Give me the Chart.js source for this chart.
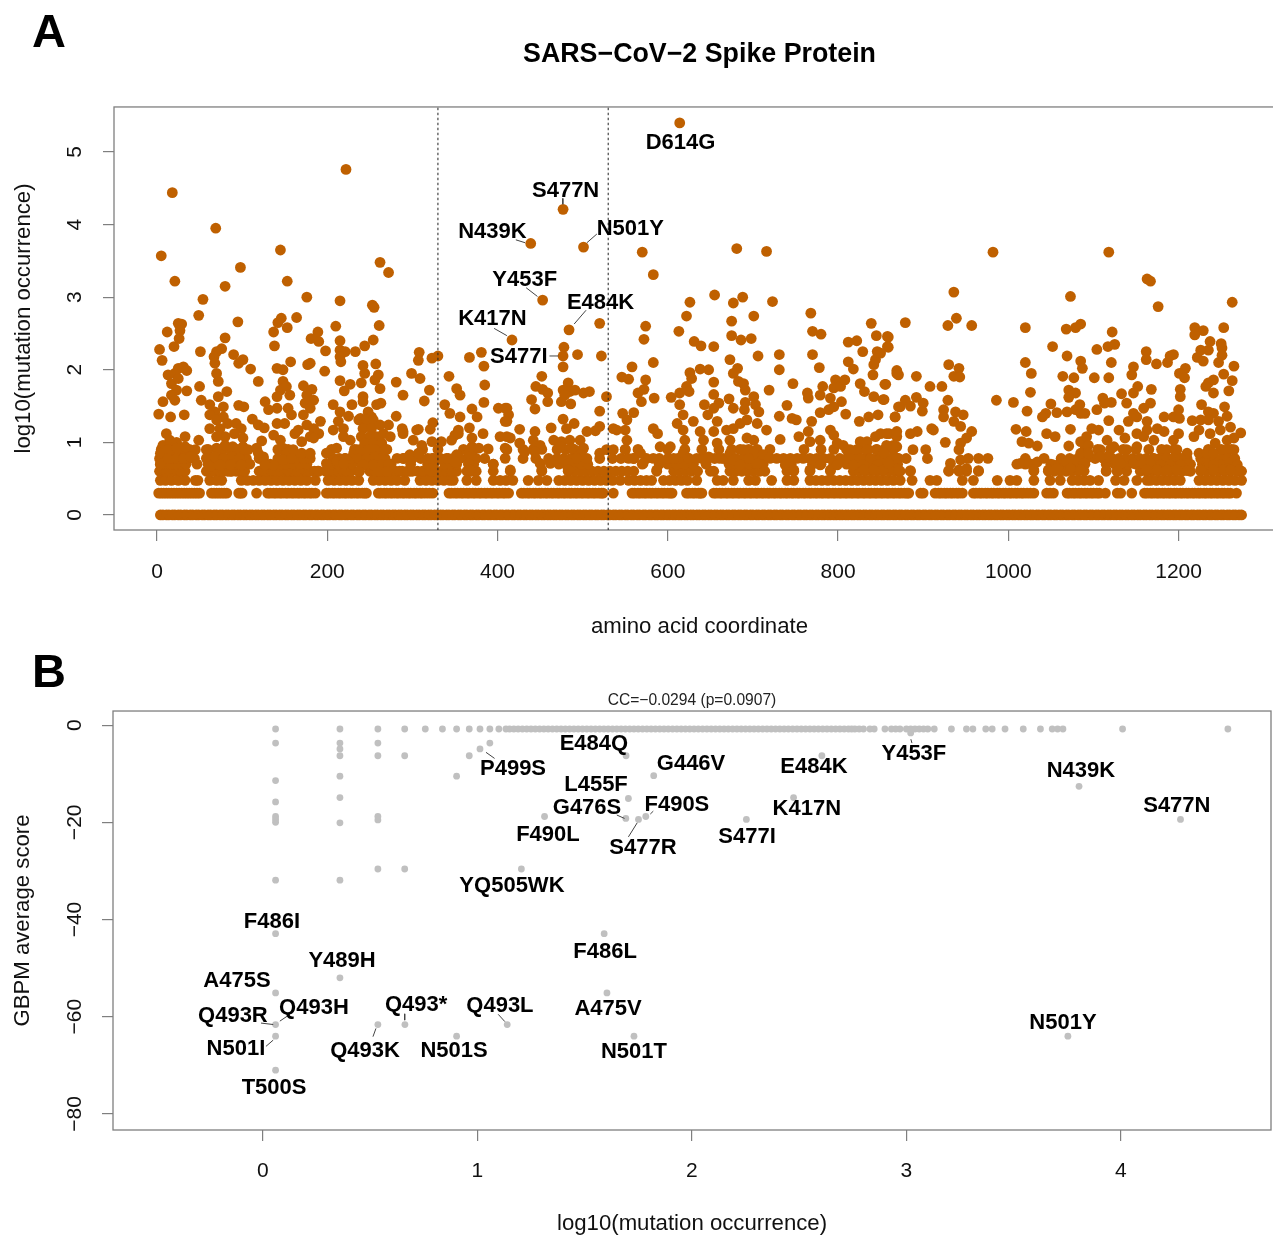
<!DOCTYPE html>
<html>
<head>
<meta charset="utf-8">
<title>SARS-CoV-2 Spike Protein</title>
<script src="https://cdn.jsdelivr.net/npm/chart.js@4/dist/chart.umd.min.js"></script>
<style>
html, body { margin: 0; padding: 0; background: #fff; overflow: hidden; }
#page { position: relative; width: 1273px; height: 1237px; overflow: hidden; }
canvas { position: absolute; left: 0; }
#chartA { top: 0; }
#chartB { top: 640px; }
.letter { position: absolute; left: 32px; font: bold 47px "Liberation Sans", Arial, sans-serif; color: #000; line-height: 47px; }
</style>
</head>
<body>
<div id="page">
  <canvas id="chartA" width="1300" height="650"></canvas>
  <canvas id="chartB" width="1273" height="597"></canvas>
  <div class="letter" style="top:7px">A</div>
  <div class="letter" style="top:647px">B</div>
</div>
<script>
// panel A, rows of discrete counts: amino acid positions
const countOneRow = [4,7,11,14,18,21,25,28,32,35,39,42,46,49,53,56,60,63,67,70,74,77,81,84,88,91,95,98,102,105,109,112,116,119,123,126,130,133,137,140,144,147,151,154,158,161,165,168,172,175,179,182,186,189,193,196,200,203,207,210,214,217,221,224,228,231,235,238,242,245,249,252,256,259,263,266,270,273,277,280,284,287,291,294,298,301,305,308,312,315,319,322,326,329,333,336,340,343,347,350,354,357,361,364,368,371,375,378,382,385,389,392,396,399,403,406,410,413,417,420,424,427,431,434,438,441,445,448,452,455,459,462,466,469,473,476,480,483,487,490,494,497,501,504,508,511,515,518,522,525,529,532,536,539,543,546,550,553,557,560,564,567,571,574,578,581,585,588,592,595,599,602,606,609,613,616,620,623,627,630,634,637,641,644,648,651,655,658,662,665,669,672,676,679,683,686,690,693,697,700,704,707,711,714,718,721,725,728,732,735,739,742,746,749,753,756,760,763,767,770,774,777,781,784,788,791,795,798,802,805,809,812,816,819,823,826,830,833,837,840,844,847,851,854,858,861,865,868,872,875,879,882,886,889,893,896,900,903,907,910,914,917,921,924,928,931,935,938,942,945,949,952,956,959,963,966,970,973,977,980,984,987,991,994,998,1001,1005,1008,1012,1015,1019,1022,1026,1029,1033,1036,1040,1043,1047,1050,1054,1057,1061,1064,1068,1071,1075,1078,1082,1085,1089,1092,1096,1099,1103,1106,1110,1113,1117,1120,1124,1127,1131,1134,1138,1141,1145,1148,1152,1155,1159,1162,1166,1169,1173,1176,1180,1183,1187,1190,1194,1197,1201,1204,1208,1211,1215,1218,1222,1225,1229,1232,1236,1239,1243,1246,1250,1253,1257,1260,1264,1267,1271,1274];
const countTwoRow = [2,8,14,20,26,32,38,44,50,64,70,76,82,96,100,117,130,137,144,151,158,165,172,179,186,199,206,213,220,227,234,241,246,260,267,274,281,288,295,302,309,316,324,343,350,357,364,371,378,385,392,399,406,413,428,435,442,449,456,463,470,477,484,491,498,505,512,519,524,536,558,565,572,579,586,593,600,605,622,629,636,640,654,661,668,675,682,689,696,703,710,717,724,731,738,745,752,759,766,773,780,787,794,801,808,815,822,829,836,843,850,857,864,871,878,883,897,900,914,921,928,935,942,946,959,966,973,980,987,994,1001,1008,1015,1022,1030,1045,1053,1069,1076,1083,1090,1097,1104,1114,1128,1132,1145,1160,1167,1174,1181,1188,1195,1202,1209,1216,1223,1230,1237,1244,1251,1258,1268];
const countTwoFill = [5,11,17,23,29,35,41,47,67,73,79,98,133,140,147,154,161,168,175,182,202,209,216,223,230,237,244,263,270,277,284,291,298,305,312,320,346,353,360,367,374,381,388,395,402,409,431,438,445,452,459,466,473,480,487,494,501,508,515,522,561,568,575,582,589,596,603,625,632,638,657,664,671,678,685,692,699,706,713,720,727,734,741,748,755,762,769,776,783,790,797,804,811,818,825,832,839,846,853,860,867,874,881,918,925,932,939,962,969,976,983,990,997,1004,1011,1018,1026,1049,1072,1079,1086,1093,1100,1107,1163,1170,1177,1184,1191,1198,1205,1212,1219,1226,1233,1240,1247,1254,1261];
const countThreeRow = [4,10,17,25,33,45,48,62,70,76,99,106,113,120,127,134,141,148,155,162,169,176,186,201,208,215,222,229,237,254,261,268,275,282,291,309,316,323,330,337,344,348,364,375,395,403,410,418,436,448,458,472,479,486,493,500,507,514,521,528,535,544,554,561,568,575,581,595,602,609,616,623,634,658,665,677,695,703,722,740,748,767,774,781,788,795,802,809,816,823,830,837,844,851,858,865,873,887,908,916,946,959,987,1002,1010,1030,1049,1061,1075,1082,1089,1096,1106,1126,1136,1151,1163,1167,1174,1181,1188,1195,1202,1224,1231,1238,1245,1252,1259,1266,1274];
const countFourRow = [3,4,9,11,15,21,23,27,29,33,58,62,63,68,73,74,78,83,86,88,93,97,98,103,120,125,127,130,135,137,140,145,150,153,155,160,163,165,170,175,178,180,185,189,190,198,203,206,208,213,218,222,223,228,237,238,250,256,262,268,270,274,280,285,288,294,297,300,306,312,313,318,320,322,328,334,340,345,346,352,364,367,369,374,375,395,415,452,483,490,497,504,511,518,525,532,539,546,553,560,587,607,614,621,628,635,650,654,673,680,687,694,701,708,714,740,748,767,791,818,825,832,839,846,853,860,867,873,871,885,930,942,951,965,1030,1047,1054,1061,1068,1075,1082,1089,1115,1128,1139,1155,1162,1169,1176,1183,1190,1197,1204,1214,1226,1233,1240,1247,1254,1261,1268,1274];
const countFiveRow = [4,10,16,22,28,34,60,66,72,78,84,90,96,102,127,133,139,145,151,160,168,176,205,213,221,229,240,247,254,261,268,275,298,318,325,338,345,352,366,372,395,472,480,490,498,506,570,590,600,610,620,630,645,672,680,688,696,704,712,745,770,780,795,810,820,830,840,850,860,870,1010,1020,1030,1050,1060,1070,1080,1090,1115,1125,1132,1140,1150,1158,1166,1174,1182,1190,1198,1206,1214,1228,1236,1244,1252,1260,1268];
const countSixRow = [3,8,14,20,26,32,38,44,60,65,70,75,80,85,90,95,100,105,120,125,142,149,156,163,172,180,207,214,221,228,238,245,252,260,268,290,300,310,318,325,332,340,348,356,366,375,385,430,445,460,470,478,486,492,505,520,535,545,560,575,590,600,612,625,640,655,665,672,680,688,696,704,712,802,810,820,830,838,846,854,862,870,880,905,1020,1062,1072,1082,1092,1102,1112,1122,1130,1138,1146,1154,1162,1170,1178,1186,1194,1202,1210,1226,1234,1242,1250,1258,1266];
const countEightRow = [5,12,18,25,32,38,60,70,78,86,94,102,142,148,154,205,232,240,247,254,261,270,312,330,360,372,430,442,452,470,480,490,500,550,565,600,620,640,660,675,685,695,705,720,760,780,795,810,825,835,845,855,865,1090,1105,1120,1135,1150,1165,1180,1195,1235,1250,1262];

// panel A, scattered points: [position, log10 occurrence]
const spikeLeft = [[18,4.44],[69,3.95],[222,4.76],[5,3.57],[145,3.65],[262,3.48],[272,3.34],[98,3.41],[21,3.22],[80,3.15],[153,3.22],[54,2.97],[176,3.0],[215,2.95],[253,2.89],[255,2.86],[49,2.75],[164,2.72],[25,2.64],[29,2.63],[146,2.71],[142,2.65],[153,2.58],[137,2.52],[12,2.52],[95,2.66],[210,2.6],[261,2.61],[27,2.54],[26,2.43],[80,2.44],[189,2.52],[181,2.43],[190,2.39],[215,2.4],[254,2.41],[244,2.33],[233,2.25],[138,2.33],[20,2.32],[3,2.28],[76,2.29],[70,2.25],[67,2.18],[51,2.25],[198,2.26],[215,2.27],[221,2.25],[215,2.18],[216,2.11],[90,2.21],[101,2.14],[96,2.09],[6,2.13],[308,2.24],[307,2.13],[323,2.16],[330,2.19],[367,2.17],[381,2.24],[384,2.05],[157,2.11],[148,2.0],[141,2.02],[180,2.09],[177,2.07],[257,2.08],[242,2.06],[244,1.95],[240,1.82],[260,1.93],[256,1.86],[262,1.74],[110,2.01],[197,1.98],[25,2.02],[31,2.04],[35,1.99],[13,1.93],[21,1.95],[17,1.81],[25,1.88],[68,2.09],[70,1.95],[72,1.84],[299,1.95],[309,1.88],[343,1.91],[119,1.84],[281,1.83],[215,1.85],[227,1.8],[220,1.71],[50,1.77],[35,1.71],[23,1.72],[17,1.65],[385,1.79],[352,1.74],[320,1.72],[82,1.7],[72,1.63],[148,1.84],[145,1.72],[152,1.77],[156,1.65],[141,1.63],[172,1.78],[182,1.73],[176,1.65],[184,1.58],[174,1.54],[180,1.47],[172,1.38],[289,1.65],[242,1.63],[242,1.56],[229,1.52],[263,1.54],[52,1.58],[21,1.58],[7,1.56],[62,1.52],[127,1.56],[96,1.51],[102,1.49],[314,1.57],[384,1.55],[356,1.65],[338,1.52],[344,1.4],[356,1.35],[370,1.46],[376,1.35],[207,1.52],[215,1.42],[225,1.36],[213,1.29],[78,1.49],[68,1.42],[62,1.38],[78,1.35],[70,1.31],[131,1.45],[141,1.47],[154,1.47],[158,1.38],[150,1.26],[2,1.39],[16,1.35],[32,1.38],[281,1.36],[401,1.47],[411,1.47],[411,1.29],[258,1.52],[248,1.42],[239,1.33],[252,1.35],[246,1.26],[254,1.24],[112,1.32],[119,1.24],[126,1.2],[324,1.27],[321,1.18],[307,1.18],[272,1.24],[288,1.19],[289,1.15],[354,1.17],[350,1.1],[367,1.2],[383,1.12]];
const lowLeft = [[11,1.12],[7,.96],[15,1.03],[23,1.0],[33,1.08],[4,.85],[13,.9],[23,.92],[33,.94],[49,1.03],[45,.9],[4,.7],[13,.78],[23,.78],[31,.78],[39,.8],[47,.7],[62,1.19],[74,1.19],[83,1.26],[93,1.26],[99,1.19],[80,1.08],[70,1.08],[91,1.12],[101,1.06],[58,.9],[70,.92],[80,.96],[89,.94],[101,.94],[107,.9],[58,.78],[68,.8],[78,.78],[88,.8],[97,.78],[109,.7],[62,.67],[74,.69],[86,.69],[99,.69],[123,1.02],[117,.92],[125,.8],[137,.69],[127,.69],[119,.85],[141,1.26],[137,1.10],[145,1.03],[148,.92],[152,.85],[148,.76],[160,.9],[158,.78],[170,.85],[180,.85],[162,1.12],[166,1.17],[176,1.24],[184,1.19],[192,1.29],[190,1.12],[180,1.08],[170,1.01],[184,1.06],[207,1.17],[219,1.19],[219,1.08],[227,1.03],[211,.92],[199,.85],[231,.85],[221,.78],[235,.9],[211,.74],[199,.71],[219,.71],[237,1.31],[246,1.31],[254,1.31],[242,1.19],[252,1.19],[262,1.24],[240,1.08],[250,1.08],[258,1.08],[266,1.12],[244,.99],[254,.99],[264,.99],[274,1.08],[239,.9],[248,.9],[256,.9],[268,.9],[237,.78],[246,.78],[256,.8],[264,.78],[242,.69],[254,.69],[264,.69],[272,.69],[237,.6],[262,.6],[270,.6],[289,1.12],[305,1.17],[301,1.03],[311,.96],[323,1.01],[334,1.01],[346,1.03],[354,1.12],[282,.78],[289,.78],[297,.83],[307,.85],[323,.78],[333,.78],[342,.78],[352,.83],[350,.73],[366,.85],[370,.94],[378,.92],[389,.91],[370,1.06],[366,.71],[368,.62],[395,.7],[409,.92],[409,.78],[403,1.08],[411,1.08]];
const spikeMid = [[614,5.4],[477,4.21],[439,3.74],[501,3.69],[570,3.62],[583,3.31],[681,3.67],[716,3.63],[453,2.96],[655,3.03],[626,2.93],[688,3.0],[677,2.92],[723,2.94],[768,2.78],[622,2.74],[701,2.74],[675,2.67],[520,2.64],[484,2.55],[574,2.6],[613,2.53],[770,2.53],[780,2.49],[839,2.64],[675,2.47],[572,2.42],[686,2.41],[698,2.43],[417,2.41],[631,2.39],[639,2.33],[654,2.32],[845,2.47],[859,2.45],[859,2.31],[812,2.38],[822,2.4],[829,2.25],[478,2.31],[477,2.19],[494,2.21],[522,2.19],[706,2.19],[731,2.21],[770,2.21],[477,2.04],[583,2.1],[558,2.04],[846,2.25],[844,2.14],[812,2.11],[818,2.01],[841,1.93],[842,2.07],[673,2.14],[682,2.02],[677,1.95],[683,1.84],[689,1.81],[691,1.72],[701,1.63],[638,2.01],[648,2.0],[626,1.96],[628,1.88],[778,2.03],[731,2.0],[452,1.91],[546,1.9],[554,1.87],[574,1.86],[445,1.77],[453,1.73],[459,1.68],[459,1.56],[440,1.59],[444,1.46],[483,1.82],[477,1.72],[485,1.7],[491,1.72],[508,1.7],[501,1.68],[475,1.56],[486,1.53],[479,1.65],[528,1.63],[565,1.68],[572,1.73],[569,1.56],[584,1.61],[654,1.83],[622,1.77],[614,1.68],[625,1.7],[604,1.62],[654,1.66],[614,1.52],[643,1.52],[660,1.54],[654,1.47],[647,1.38],[672,1.6],[677,1.47],[691,1.55],[690,1.45],[703,1.52],[707,1.42],[719,1.72],[747,1.81],[764,1.68],[765,1.61],[782,1.77],[779,1.65],[791,1.61],[797,1.86],[795,1.75],[803,1.77],[808,1.86],[826,1.81],[831,1.7],[842,1.63],[855,1.8],[853,1.59],[869,1.95],[804,1.56],[795,1.49],[740,1.51],[731,1.36],[746,1.33],[751,1.31],[520,1.43],[547,1.4],[560,1.41],[809,1.39],[779,1.41],[789,1.45],[847,1.38],[836,1.35],[825,1.29],[867,1.35],[873,1.49],[618,1.38],[611,1.26],[630,1.29],[618,1.17],[658,1.29],[638,1.15],[654,1.15],[669,1.17],[685,1.26],[693,1.31],[705,1.26],[716,1.17],[677,1.19],[477,1.32],[490,1.26],[463,1.2],[444,1.15],[426,1.18],[481,1.19],[505,1.15],[520,1.22],[515,1.16],[536,1.19],[540,1.17],[552,1.31],[550,1.17],[583,1.19],[588,1.12],[409,1.47],[413,1.38],[409,1.29],[732,1.04],[754,1.08],[765,1.15],[769,1.29],[791,1.17],[795,1.1]];
const lowMid = [[442,1.03],[426,.99],[450,.96],[444,.87],[432,.87],[415,1.06],[411,.9],[466,1.03],[475,1.01],[485,1.03],[497,1.03],[501,.92],[487,.92],[473,.94],[497,.83],[493,.78],[462,.71],[483,.71],[520,.85],[536,.9],[528,.9],[552,1.03],[550,.9],[554,.78],[568,.85],[560,.78],[450,.71],[415,.62],[452,.62],[483,.62],[571,.71],[583,.78],[591,.94],[603,.94],[587,.62],[620,1.03],[618,.85],[607,.78],[624,.78],[634,.78],[648,.8],[642,1.03],[658,.99],[673,1.03],[693,1.06],[701,1.03],[689,.9],[673,.85],[661,.78],[677,.76],[701,.85],[695,.78],[712,.83],[685,.69],[705,.71],[720,.78],[728,.78],[736,.78],[744,.78],[752,.78],[759,.78],[767,.78],[775,.78],[783,.78],[791,.78],[738,.69],[748,.62],[767,.62],[779,.69],[791,.62],[799,.69],[767,1.01],[779,1.03],[799,.99],[806,.96],[814,.9],[826,1.01],[834,1.01],[844,1.08],[850,1.12],[860,1.12],[869,1.08],[822,.9],[834,.9],[846,.9],[857,.92],[869,.94],[814,.78],[826,.78],[838,.78],[850,.78],[861,.78],[871,.78],[818,.69],[830,.69],[846,.69],[861,.69],[830,.62],[842,.62],[853,.62],[865,.62]];
const spikeRight = [[982,3.62],[1118,3.62],[1163,3.25],[1167,3.22],[936,3.07],[1073,3.01],[1176,2.87],[1263,2.93],[939,2.71],[929,2.61],[957,2.61],[879,2.65],[1020,2.58],[1068,2.56],[1079,2.58],[1085,2.63],[1122,2.52],[1052,2.32],[1104,2.28],[1117,2.32],[1125,2.35],[1219,2.58],[1229,2.54],[1219,2.48],[1237,2.39],[1235,2.27],[1226,2.27],[1222,2.17],[1229,2.12],[1253,2.58],[1250,2.36],[1251,2.3],[1251,2.2],[1247,2.1],[858,2.46],[858,2.32],[850,2.23],[1162,2.25],[1162,2.14],[1174,2.08],[1187,2.1],[1194,2.21],[1190,2.19],[1121,2.1],[1069,2.19],[1085,2.12],[1087,2.02],[1020,2.1],[1027,1.95],[930,2.07],[942,2.02],[936,1.91],[943,1.9],[1147,2.04],[1145,1.93],[1208,2.02],[1201,1.95],[1207,1.89],[1265,2.05],[1253,1.94],[1241,1.86],[1235,1.82],[1232,1.77],[1263,1.85],[1259,1.71],[1241,1.68],[869,1.99],[871,1.93],[892,1.91],[856,1.8],[908,1.77],[922,1.77],[854,1.59],[879,1.58],[871,1.49],[885,1.5],[892,1.62],[900,1.54],[899,1.43],[867,1.35],[929,1.58],[924,1.45],[924,1.35],[938,1.42],[947,1.38],[936,1.29],[944,1.22],[957,1.15],[951,1.06],[944,.99],[942,.9],[926,1.0],[986,1.58],[1006,1.55],[1026,1.69],[1022,1.43],[1050,1.53],[1044,1.4],[1040,1.35],[1057,1.41],[1069,1.42],[1079,1.45],[1084,1.52],[1090,1.4],[1085,1.4],[1064,1.91],[1077,1.89],[1071,1.72],[1079,1.68],[1071,1.62],[1101,1.89],[1118,1.89],[1111,1.61],[1121,1.55],[1104,1.45],[1113,1.54],[1118,1.3],[1133,1.67],[1139,1.54],[1147,1.68],[1152,1.77],[1168,1.73],[1167,1.54],[1202,1.73],[1202,1.63],[1200,1.45],[1147,1.4],[1159,1.47],[1141,1.29],[1163,1.29],[1151,1.35],[1183,1.35],[1194,1.35],[1201,1.33],[1227,1.52],[1235,1.42],[1241,1.4],[1254,1.49],[1257,1.36],[1216,1.3],[1226,1.31],[1235,1.31],[1247,1.29],[1261,1.21],[1273,1.13]];
const lowRight = [[1009,1.18],[1021,1.15],[1016,1.01],[1024,.99],[1034,.95],[912,1.17],[910,1.19],[893,1.15],[885,1.12],[869,1.15],[865,.96],[857,.96],[857,1.12],[854,.85],[867,.78],[859,.71],[888,.9],[903,.9],[871,.62],[885,.61],[965,.78],[976,.78],[932,.71],[944,.76],[953,.78],[930,.61],[942,.62],[951,.64],[965,.61],[1014,.71],[1024,.71],[1034,.73],[1042,.78],[1030,.62],[1045,1.12],[1055,1.08],[1073,1.18],[1071,.95],[1085,1.01],[1092,1.08],[1098,1.19],[1106,1.17],[1094,.96],[1085,.85],[1094,.85],[1108,.9],[1116,1.03],[1116,.8],[1108,.8],[1130,1.17],[1137,1.06],[1124,.94],[1139,.9],[1151,1.12],[1163,1.17],[1175,1.19],[1183,1.15],[1171,1.03],[1159,1.08],[1194,1.03],[1200,1.12],[1186,.9],[1198,.9],[1210,.85],[1151,.94],[1218,1.08],[1224,1.17],[1237,1.12],[1249,1.17],[1243,.99],[1257,1.03],[1265,1.06],[1265,.9],[1257,.9],[1224,.85],[1233,.85],[1241,.85],[1257,.78],[1265,.76],[1269,.69],[1249,.69],[1241,.69],[1226,.62],[1271,.62],[1171,.78],[1179,.78],[1186,.78],[1194,.78],[1202,.78],[1132,.71],[1147,.71],[1159,.71],[1167,.71],[1179,.69],[1190,.69],[1202,.69],[1115,.61],[1210,.61],[1128,.6],[1053,.69],[1069,.73],[1077,.76],[1089,.71],[1047,.62],[1057,.64],[1073,.64],[1085,.62],[1163,.62],[1175,.62],[1186,.62],[1198,.62],[1241,.62],[1253,.62],[1261,.62]];

const domainBounds = [330, 530];
const xTicksA = [0,200,400,600,800,1000,1200];
const yTicksA = [0,1,2,3,4,5];

// panel B: top row scores, x = log10 occurrence
const topRowX = [.059,.359,.536,.661,.757,.837,.903,.962,1.012,1.058,1.1,1.133,1.15,1.17,1.19,1.21,1.23,1.25,1.27,1.29,1.31,1.33,1.35,1.37,1.39,1.41,1.43,1.45,1.47,1.49,1.51,1.53,1.55,1.57,1.59,1.61,1.63,1.65,1.67,1.69,1.71,1.73,1.75,1.77,1.79,1.81,1.83,1.85,1.87,1.89,1.91,1.93,1.95,1.97,1.99,2.01,2.03,2.05,2.07,2.09,2.11,2.13,2.15,2.17,2.19,2.21,2.23,2.25,2.27,2.29,2.31,2.33,2.35,2.37,2.39,2.41,2.43,2.45,2.47,2.49,2.51,2.53,2.55,2.57,2.59,2.61,2.63,2.65,2.67,2.69,2.71,2.73,2.745,2.76,2.78,2.8,2.83,2.85,2.9,2.93,2.95,2.97,3.0,3.02,3.04,3.06,3.08,3.1,3.13,3.21,3.28,3.31,3.37,3.4,3.46,3.545,3.625,3.68,3.705,3.73,4.008,4.499];
const topRowScore = -0.8;
const lowerPoints = [[.059,-3.7],[.059,-11.4],[.059,-15.8],[.059,-18.8],[.059,-19.4],[.059,-20],[.059,-31.9],[.359,-3.7],[.359,-4.9],[.359,-6.3],[.359,-10.5],[.359,-14.9],[.359,-20.1],[.359,-31.9],[.536,-3.7],[.536,-6.3],[.536,-18.8],[.536,-19.5],[.536,-29.6],[.661,-6.3],[.661,-29.6],[1.058,-3.7],[1.012,-4.9],[.962,-6.3],[.903,-10.5],[1.205,-29.6],[1.693,-6.3],[1.822,-10.4],[1.704,-15.1],[1.692,-19.2],[1.313,-18.8],[1.751,-19.4],[1.785,-18.8],[3.02,-1.6],[2.606,-6.3],[2.474,-14.9],[2.254,-19.4],[3.805,-12.6],[4.278,-19.4],[.059,-42.9],[.359,-52],[.059,-55.1],[.059,-61.6],[.059,-64],[.059,-71],[.536,-61.6],[.662,-61.6],[.903,-64],[1.139,-61.6],[1.591,-42.9],[1.604,-55.1],[1.73,-64],[3.753,-64]];
const xTicksB = [0,1,2,3,4];
const yTicksB = [0,-20,-40,-60,-80];

// mutation names, placed in data units: [text, x, y]
const namesA = [['D614G',615,5.13],['S477N',480,4.47],['N439K',394,3.9],['N501Y',556,3.94],['Y453F',432,3.24],['E484K',521,2.92],['K417N',394,2.7],['S477I',425,2.17]];
const namesB = [['E484Q',1.543,-3.9],['P499S',1.166,-9.04],['G446V',1.996,-8],['E484K',2.569,-8.63],['Y453F',3.035,-5.96],['N439K',3.814,-9.45],['S477N',4.261,-16.65],['L455F',1.553,-12.3],['G476S',1.511,-17.1],['F490S',1.93,-16.4],['K417N',2.536,-17.3],['F490L',1.329,-22.6],['S477R',1.772,-25.3],['S477I',2.257,-23],['YQ505WK',1.161,-33.1],['F486I',.042,-40.5],['Y489H',.369,-48.5],['F486L',1.595,-46.7],['A475S',-.121,-52.6],['Q493H',.238,-58.2],['Q493*',.714,-57.6],['Q493L',1.105,-57.8],['A475V',1.609,-58.4],['Q493R',-.14,-59.8],['N501I',-.126,-66.6],['Q493K',.476,-67],['N501S',.891,-67],['N501T',1.73,-67.2],['N501Y',3.73,-61.3],['T500S',.052,-74.6]];
// thin lines from a name to its point: [x1, y1, x2, y2]
const leadersA = [[476.7,4.36,476.7,4.28],[421.5,3.79,432.4,3.75],[516.7,3.87,505,3.75],[433.6,3.13,446.9,3.01],[504,2.82,490,2.63],[396,2.57,411,2.47],[461,2.19,471.6,2.19]];
const leadersB = [[1.04,-5.6,1.08,-6.85],[3.021,-2.9,3.026,-3.7],[1.65,-18.5,1.686,-19.2],[1.704,-23,1.745,-20.1],[1.806,-18.3,1.82,-17.7],[-.009,-61.3,.048,-61.6],[.126,-59.5,.079,-60.9],[.014,-66.1,.048,-64.8],[.513,-64.1,.527,-62.4],[.661,-59.4,.661,-60.7],[1.097,-59.5,1.128,-61]];

const FONT = '"Liberation Sans", Arial, sans-serif';
const TEXT = '#111';
const LINE = '#7f7f7f';

function toXY(pairs) {
    return pairs.map(function(p) { return {x: p[0], y: p[1]}; });
}
function rowXY(positions, value) {
    return positions.map(function(x) { return {x: x, y: value}; });
}
function minusSign(v) {
    return String(v).replace('-', '\u2212');
}
function setTicks(values) {
    return function(scale) {
        scale.ticks = values.map(function(v) { return {value: v}; });
    };
}
function leaderSets(leaders) {
    return leaders.map(function(l) {
        return {
            type: 'scatter', showLine: true, order: 0, pointRadius: 0,
            borderColor: '#444', borderWidth: 1,
            data: [{x: l[0], y: l[1]}, {x: l[2], y: l[3]}]
        };
    });
}

// draws the box round the plot and the bold mutation names
function panelPlugin(names) {
    return {
        id: 'panel',
        beforeDatasetsDraw: function(chart) {
            const a = chart.chartArea, c = chart.ctx;
            c.save();
            c.strokeStyle = LINE;
            c.lineWidth = 1.3;
            c.strokeRect(a.left, a.top, a.right - a.left, a.bottom - a.top);
            c.restore();
        },
        afterDatasetsDraw: function(chart) {
            const c = chart.ctx;
            c.save();
            c.font = 'bold 22px ' + FONT;
            c.fillStyle = '#000';
            c.textAlign = 'center';
            c.textBaseline = 'middle';
            names.forEach(function(n) {
                c.fillText(n[0], chart.scales.x.getPixelForValue(n[1]), chart.scales.y.getPixelForValue(n[2]));
            });
            c.restore();
        }
    };
}

function axisOptions(o) {
    return {
        type: 'linear',
        position: o.position,
        min: o.min,
        max: o.max,
        afterBuildTicks: setTicks(o.ticks),
        afterFit: o.fit,
        border: {display: false},
        grid: {drawOnChartArea: false, drawTicks: true, tickLength: 11, color: LINE, lineWidth: 1.2},
        ticks: o.tickOptions,
        title: {display: true, text: o.title, color: TEXT, font: {family: FONT, size: 22.2}, padding: o.titlePadding}
    };
}
function xTickOptions(pad) {
    return {autoSkip: false, maxRotation: 0, minRotation: 0, padding: pad, color: TEXT, font: {family: FONT, size: 21}, callback: minusSign};
}
function yTickOptions(pad) {
    return {autoSkip: false, minRotation: 90, maxRotation: 90, crossAlign: 'center', padding: pad, color: TEXT, font: {family: FONT, size: 21}, callback: minusSign};
}

const pointsA = [].concat(
    rowXY(countOneRow, 0),
    rowXY(countTwoRow, 0.301),
    rowXY(countTwoFill, 0.301),
    rowXY(countThreeRow, 0.477),
    rowXY(countFourRow, 0.602),
    rowXY(countFiveRow, 0.699),
    rowXY(countSixRow, 0.778),
    rowXY(countEightRow, 0.903),
    toXY(spikeLeft), toXY(lowLeft),
    toXY(spikeMid), toXY(lowMid),
    toXY(spikeRight), toXY(lowRight)
);
const boundSets = domainBounds.map(function(b) {
    return {
        type: 'scatter', showLine: true, order: 0, pointRadius: 0,
        borderColor: '#222', borderWidth: 1, borderDash: [2.5, 2.5],
        data: [{x: b, y: -0.21}, {x: b, y: 5.62}]
    };
});

new Chart(document.getElementById('chartA'), {
    type: 'scatter',
    data: {
        datasets: [{
            label: 'mutations', order: 1, data: pointsA,
            backgroundColor: '#bf6000', borderWidth: 0, pointRadius: 5.4
        }].concat(boundSets, leaderSets(leadersA))
    },
    options: {
        responsive: false,
        animation: false,
        events: [],
        layout: {autoPadding: false, padding: {left: 0, right: 15, top: 0, bottom: 0}},
        plugins: {
            legend: {display: false},
            tooltip: {enabled: false},
            title: {
                display: true, fullSize: false, text: 'SARS\u2212CoV\u22122 Spike Protein', color: '#000',
                font: {family: FONT, size: 26.8, weight: 'bold'}, padding: {top: 39, bottom: 35.8}
            }
        },
        scales: {
            x: axisOptions({
                position: 'bottom', min: -50.5, max: 1325, ticks: xTicksA,
                fit: function(s) { s.height = 120; }, tickOptions: xTickOptions(19),
                title: 'amino acid coordinate', titlePadding: {top: 0, bottom: 10}
            }),
            y: axisOptions({
                position: 'left', min: -0.207, max: 5.62, ticks: yTicksA,
                fit: function(s) { s.width = 114; }, tickOptions: yTickOptions(22),
                title: 'log10(mutation occurrence)', titlePadding: {top: 11, bottom: 11}
            })
        }
    },
    plugins: [panelPlugin(namesA)]
});

new Chart(document.getElementById('chartB'), {
    type: 'scatter',
    data: {
        datasets: [{
            label: 'scores', order: 1,
            data: rowXY(topRowX, topRowScore).concat(toXY(lowerPoints)),
            backgroundColor: '#c0c0c0', borderWidth: 0, pointRadius: 3.4
        }].concat(leaderSets(leadersB))
    },
    options: {
        responsive: false,
        animation: false,
        events: [],
        layout: {autoPadding: false, padding: {left: 0, right: 2, top: 0, bottom: 0}},
        plugins: {
            legend: {display: false},
            tooltip: {enabled: false},
            title: {
                display: true, fullSize: false, text: 'CC=\u22120.0294 (p=0.0907)', color: '#222',
                font: {family: FONT, size: 15.6, weight: 'normal'}, padding: {top: 51.7, bottom: 0.6}
            }
        },
        scales: {
            x: axisOptions({
                position: 'bottom', min: -0.699, max: 4.7, ticks: xTicksB,
                fit: function(s) { s.height = 107; }, tickOptions: xTickOptions(18),
                title: 'log10(mutation occurrence)', titlePadding: {top: 0, bottom: 0}
            }),
            y: axisOptions({
                position: 'left', min: -83.3, max: 2.9, ticks: yTicksB,
                fit: function(s) { s.width = 113; }, tickOptions: yTickOptions(9),
                title: 'GBPM average score', titlePadding: {top: 10, bottom: 10}
            })
        }
    },
    plugins: [panelPlugin(namesB)]
});
</script>
</body>
</html>
